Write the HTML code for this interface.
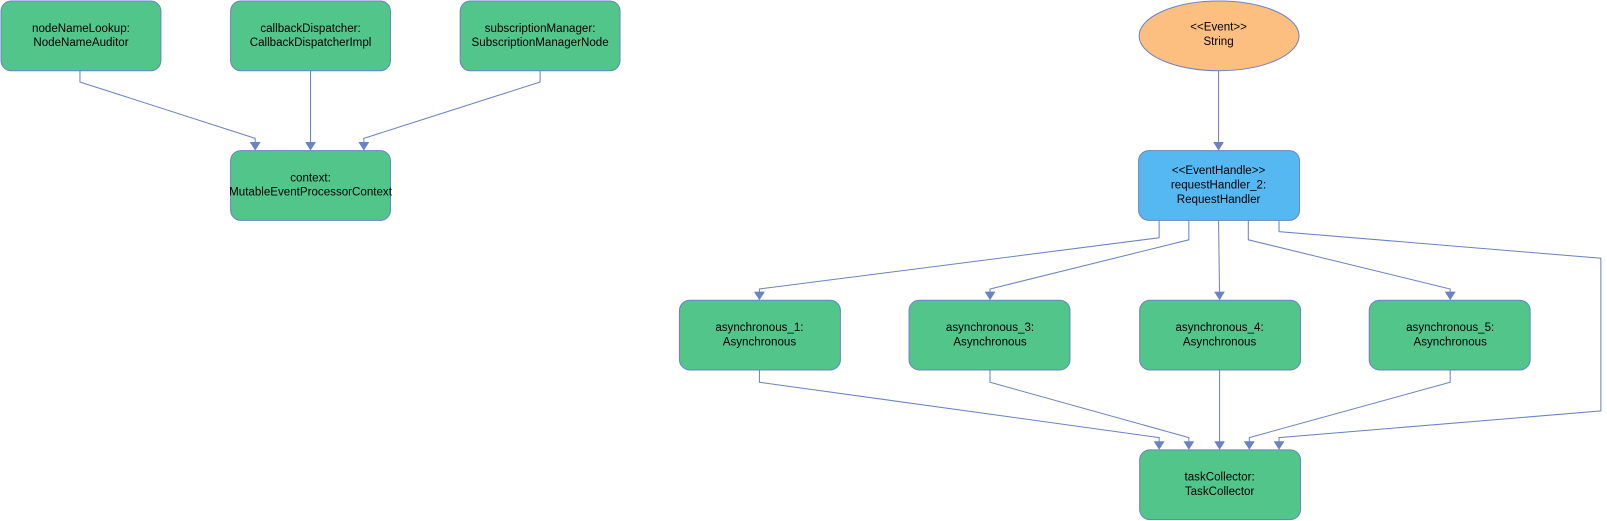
<!DOCTYPE html>
<html><head><style>
body{margin:0;background:#fff;}
svg{display:block;font-family:"Liberation Sans","DejaVu Sans",sans-serif;font-size:11.3px;}
.n{fill:#52c58b;stroke:#6b83c4;stroke-width:1;}
.e{fill:none;stroke:#6b83c4;stroke-width:1;marker-end:url(#a);}
text{text-anchor:middle;fill:#000;}
</style></head><body>
<svg width="1607" height="521" viewBox="0 0 1568 508.4" preserveAspectRatio="none">
<defs><marker id="a" markerWidth="10" markerHeight="10" refX="7.5" refY="4" orient="auto" markerUnits="userSpaceOnUse" viewBox="0 0 8 8">
<path d="M2,0.5 L7.5,4 L2,7.5 Z" fill="#6b83c4" stroke="#6b83c4" stroke-width="0.8"/></marker></defs>
<g class="n">
<rect x="1" y="1" width="156" height="68" rx="10"/>
<rect x="225" y="1" width="156" height="68" rx="10"/>
<rect x="449" y="1" width="156" height="68" rx="10"/>
<rect x="225" y="147" width="156" height="68" rx="10"/>
<rect x="663" y="293" width="157" height="68" rx="10"/>
<rect x="887" y="293" width="157" height="68" rx="10"/>
<rect x="1112" y="293" width="157" height="68" rx="10"/>
<rect x="1336" y="293" width="157" height="68" rx="10"/>
<rect x="1112" y="439" width="157" height="68" rx="10"/>
</g>
<ellipse cx="1189.5" cy="35" rx="78" ry="34" fill="#fdbf80" stroke="#6b83c4"/>
<rect x="1111" y="147" width="157" height="68" rx="10" fill="#55b8f0" stroke="#6b83c4"/>
<g class="e">
<polyline points="78,69 78,80 249,135 249,146"/>
<polyline points="303,69 303,146"/>
<polyline points="527,69 527,80 355,135 355,146"/>
<polyline points="1189,69 1189,146"/>
<polyline points="1131,215 1131,232 741,282 741,292"/>
<polyline points="1160,215 1160,234 966,282 966,292"/>
<polyline points="1189,215 1190,292"/>
<polyline points="1218,215 1218,234 1415,282 1415,292"/>
<polyline points="1248,215 1248,226 1562,252 1562,401 1248,427 1248,438"/>
<polyline points="741,361 741,373 1131,427 1131,438"/>
<polyline points="966,361 966,373 1160,427 1160,438"/>
<polyline points="1190,361 1190,438"/>
<polyline points="1415,361 1415,373 1219,427 1219,438"/>
</g>
<text x="79" y="31">nodeNameLookup:</text><text x="79" y="45">NodeNameAuditor</text>
<text x="303" y="31">callbackDispatcher:</text><text x="303" y="45">CallbackDispatcherImpl</text>
<text x="527" y="31">subscriptionManager:</text><text x="527" y="45">SubscriptionManagerNode</text>
<text x="303" y="177">context:</text><text x="303" y="191">MutableEventProcessorContext</text>
<text x="1189" y="30">&lt;&lt;Event&gt;&gt;</text><text x="1189" y="44">String</text>
<text x="1189" y="170">&lt;&lt;EventHandle&gt;&gt;</text><text x="1189" y="184">requestHandler_2:</text><text x="1189" y="198">RequestHandler</text>
<text x="741" y="323">asynchronous_1:</text><text x="741" y="337">Asynchronous</text>
<text x="966" y="323">asynchronous_3:</text><text x="966" y="337">Asynchronous</text>
<text x="1190" y="323">asynchronous_4:</text><text x="1190" y="337">Asynchronous</text>
<text x="1415" y="323">asynchronous_5:</text><text x="1415" y="337">Asynchronous</text>
<text x="1190" y="469">taskCollector:</text><text x="1190" y="483">TaskCollector</text>
</svg>
</body></html>
